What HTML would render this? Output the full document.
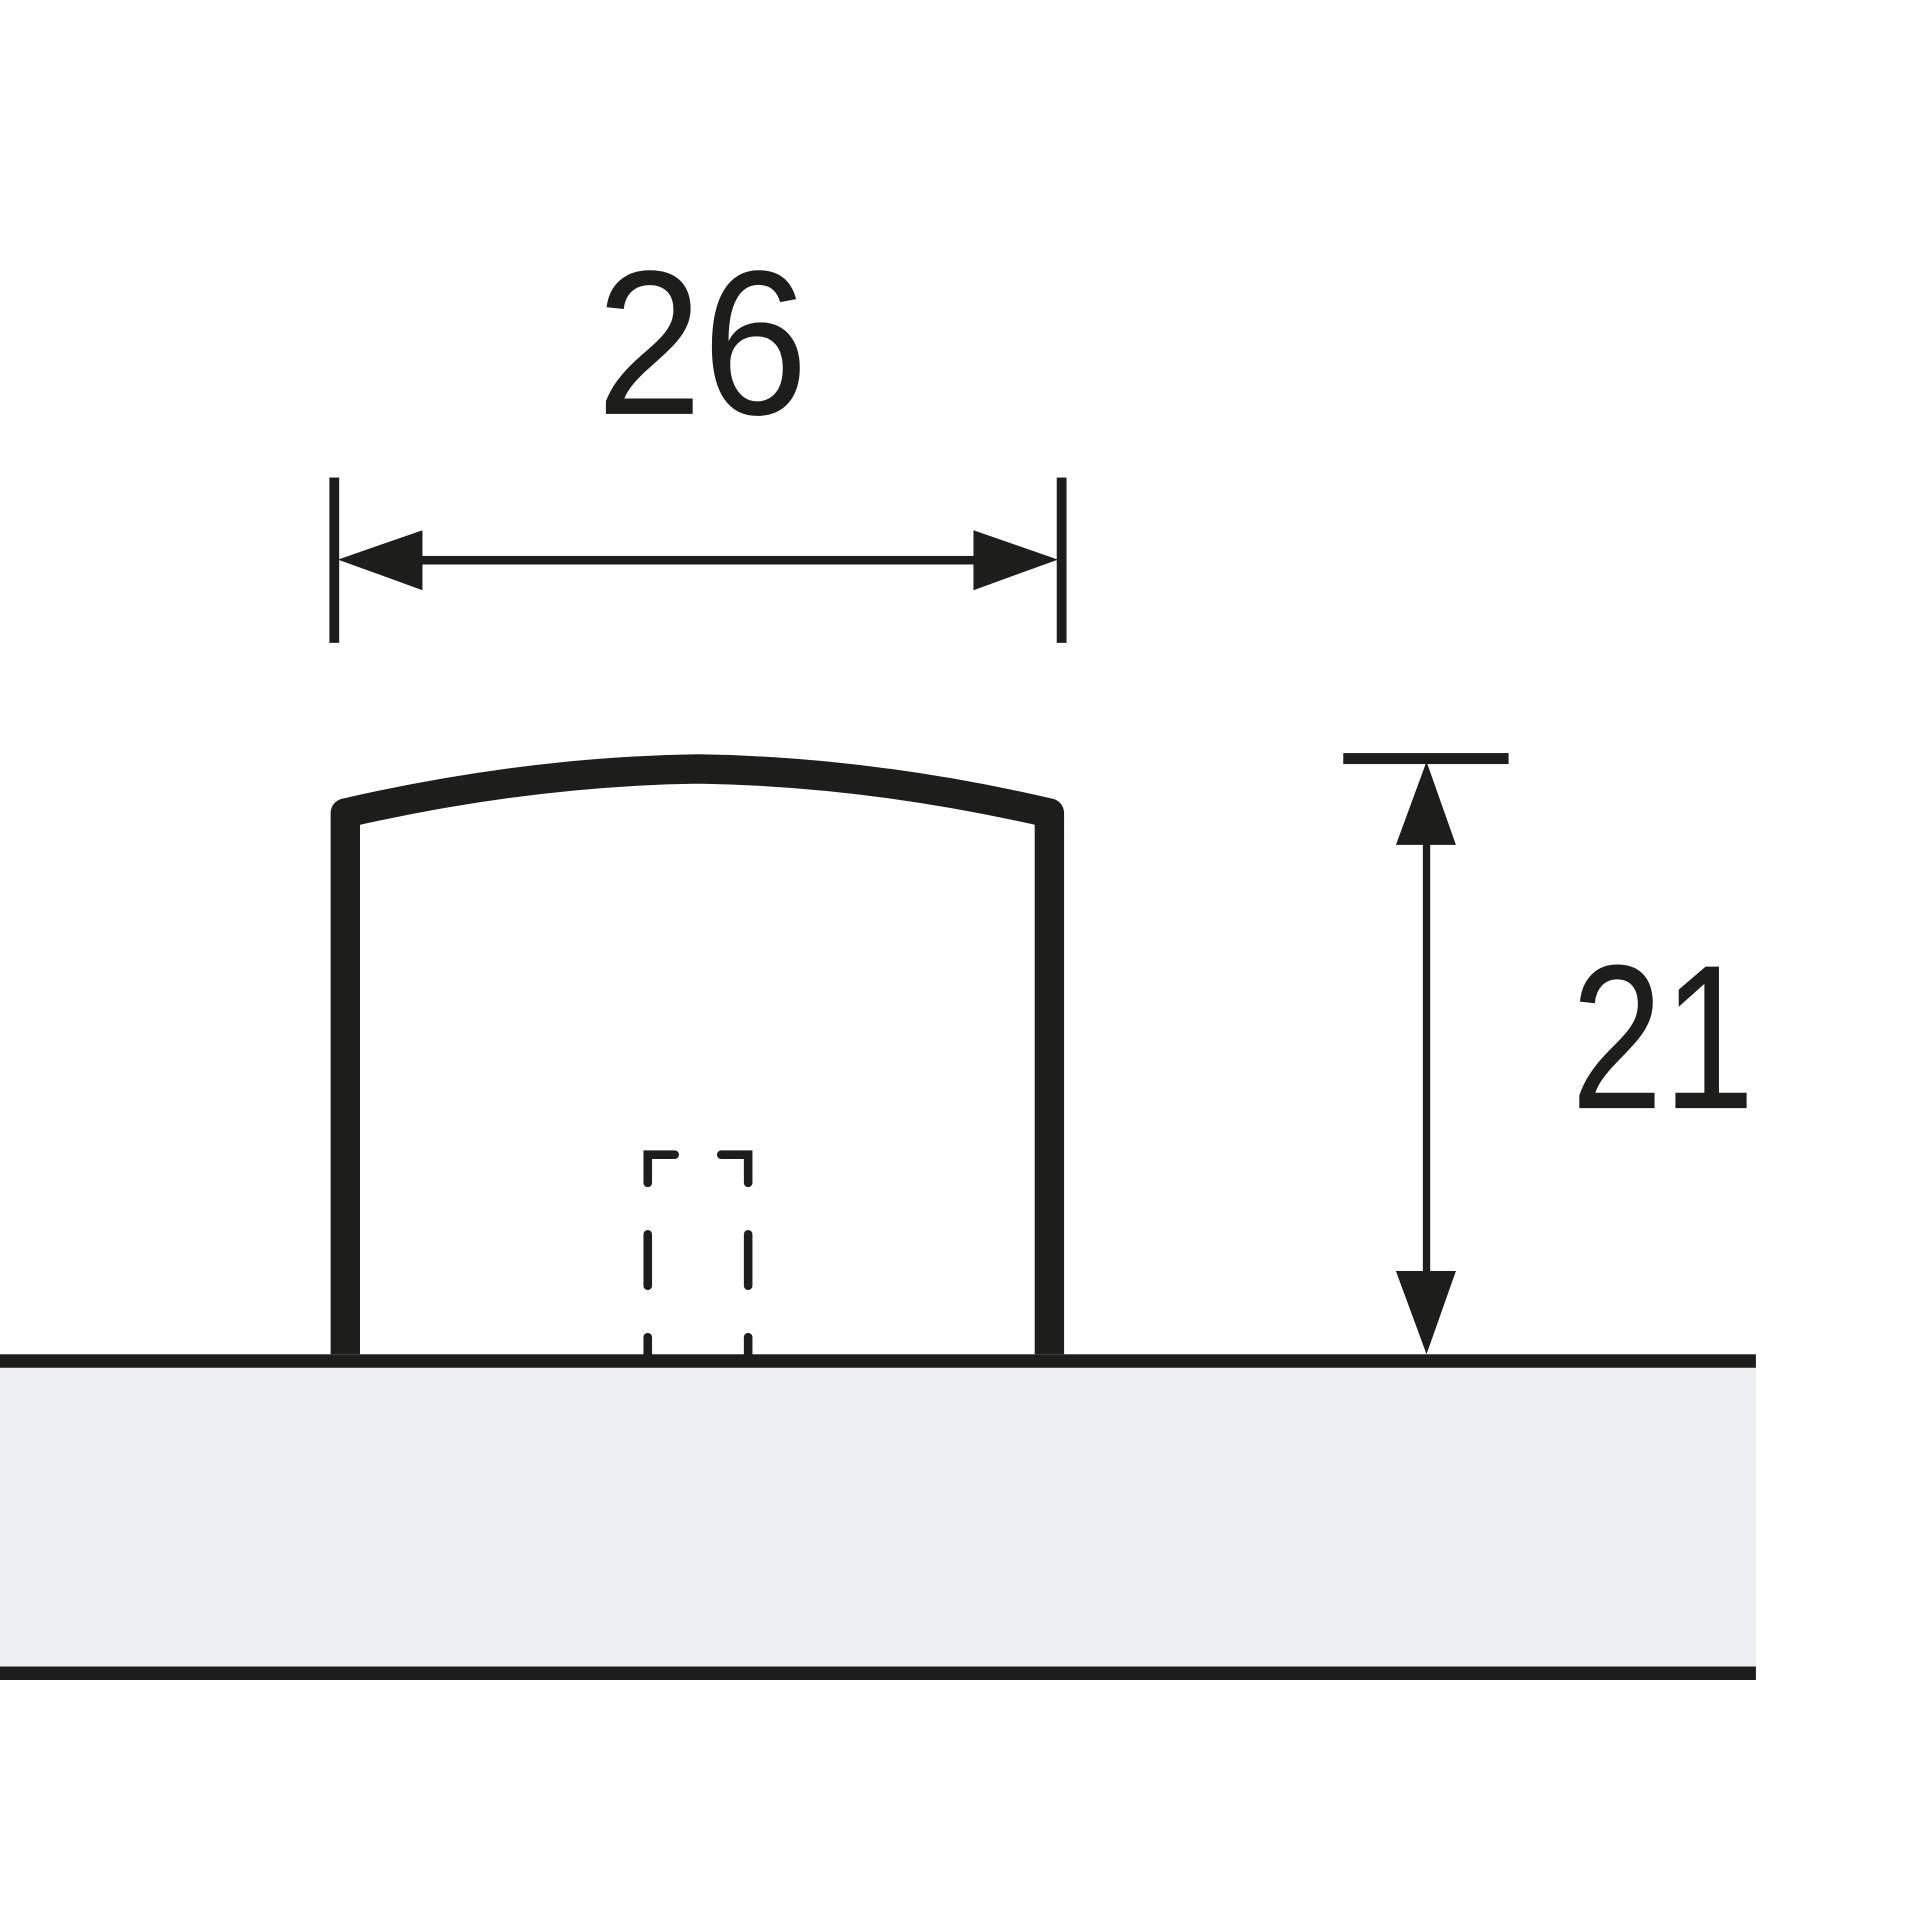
<!DOCTYPE html>
<html><head><meta charset="utf-8"><style>html,body{margin:0;padding:0;background:#fff}svg{display:block}</style></head>
<body>
<svg width="1920" height="1920" viewBox="0 0 1568 1568" xmlns="http://www.w3.org/2000/svg">
<rect x="0" y="0" width="1568" height="1568" fill="#fff"/>
<rect x="0" y="1112" width="1434" height="254" fill="#eeeff1"/>
<rect x="0" y="1106" width="1434" height="11" fill="#1d1d1b"/>
<rect x="0" y="1361" width="1434" height="11" fill="#1d1d1b"/>
<!-- handle -->
<path d="M282 1106 L282 664 Q430 630 570 628 Q710 630 857 664 L857 1106" fill="none" stroke="#1d1d1b" stroke-width="24" stroke-linejoin="round"/>
<!-- dashed -->
<g stroke="#1d1d1b" stroke-width="7" stroke-linecap="round" fill="none">
<path d="M529 966 L529 943 L551 943"/>
<path d="M589 943 L611 943 L611 966"/>
<line x1="529" y1="1008" x2="529" y2="1050"/>
<line x1="611" y1="1008" x2="611" y2="1050"/>
<line x1="529" y1="1092" x2="529" y2="1108"/>
<line x1="611" y1="1092" x2="611" y2="1108"/>
</g>
<!-- dim 26 -->
<g fill="#1d1d1b">
<rect x="269" y="390" width="8" height="135"/>
<rect x="863" y="390" width="8" height="135"/>
<rect x="330" y="454" width="480" height="7"/>
<polygon points="276,457 345,433 345,482"/>
<polygon points="864,457 795,433 795,482"/>
<rect x="1097" y="615" width="135" height="9"/>
<rect x="1162" y="680" width="6" height="370"/>
<polygon points="1165,622 1140,690 1189,690"/>
<polygon points="1165,1106 1140,1038 1189,1038"/>
</g>
<text x="487" y="338" font-family="Liberation Sans, sans-serif" font-size="168" fill="#1d1d1b" textLength="173" lengthAdjust="spacingAndGlyphs">26</text>
<text x="1283" y="905" font-family="Liberation Sans, sans-serif" font-size="168" fill="#1d1d1b" textLength="150" lengthAdjust="spacingAndGlyphs">21</text>
</svg>
</body></html>
